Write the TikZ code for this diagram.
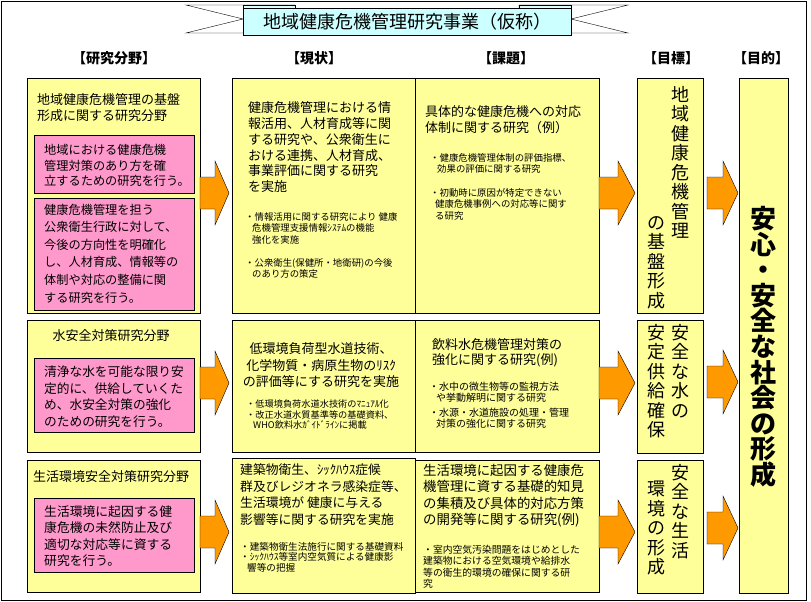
\documentclass[tikz,border=0pt]{standalone}
\usepackage{fontspec}
\setmainfont{Noto Sans CJK JP}
\definecolor{boxyellow}{HTML}{FFFF99}
\definecolor{boxpink}{HTML}{FF99CC}
\definecolor{arroworange}{HTML}{FF9900}
\definecolor{bannercyan}{HTML}{CCFFFF}
\begin{document}
\begin{tikzpicture}[x=1pt, y=-1pt,
    ybox/.style={draw, fill=boxyellow},
    pbox/.style={draw, fill=boxpink},
    body/.style={anchor=north west, inner sep=0, align=left, font=\fontsize{13}{15.5}\selectfont},
    note/.style={anchor=north west, inner sep=0, align=left, font=\fontsize{9.4}{11.5}\selectfont},
    head/.style={inner sep=0, font=\fontsize{14}{16}\selectfont\bfseries},
    tate/.style={anchor=north, inner sep=0, align=center, font=\fontsize{18}{19.5}\selectfont},
    arr/.style={draw, fill=arroworange}]
\useasboundingbox (0,0) rectangle (811,602);
\draw (1.5,1.5) rectangle (806,600);

% banner
\draw[fill=white] (186,5) -- (295,5) -- (295,33) -- (186,33) -- (243,19) -- cycle;
\draw[fill=white] (628,5) -- (519,5) -- (519,33) -- (628,33) -- (571,19) -- cycle;
\draw[fill=bannercyan!70!white] (243,5) rectangle (295,9);
\draw[fill=bannercyan!70!white] (519,5) rectangle (571,9);
\draw[fill=bannercyan] (243,8) rectangle (571,35);
\node[inner sep=0, font=\fontsize{18}{20}\selectfont] (title) at (407,21.5) {地域健康危機管理研究事業（仮称）};

% headings
\node[head] (hfield) at (114,58) {【研究分野】};
\node[head] (hnow)   at (314,58) {【現状】};
\node[head] (hissue) at (506,58) {【課題】};
\node[head] (hgoal)  at (671,58) {【目標】};
\node[head] (haim)   at (761,58) {【目的】};

% boxes
\draw[ybox] (27,78) rectangle (200,313);
\draw[pbox] (34,135) rectangle (194,193);
\draw[pbox] (34,198) rectangle (194,310);
\draw[ybox] (232,78) rectangle (415,313);
\draw[ybox] (415,78) rectangle (599,313);
\draw[ybox] (637,78) rectangle (703,313);
\draw[ybox] (739,78) rectangle (788,593);

\draw[ybox] (27,320) rectangle (200,452);
\draw[pbox] (34,358) rectangle (194,432);
\draw[ybox] (232,320) rectangle (415,452);
\draw[ybox] (415,320) rectangle (599,452);
\draw[ybox] (637,320) rectangle (703,453);

\draw[ybox] (27,460) rectangle (200,592);
\draw[pbox] (34,498) rectangle (194,572);
\draw[ybox] (232,458) rectangle (415,593);
\draw[ybox] (415,460) rectangle (599,592);
\draw[ybox] (637,460) rectangle (703,593);

% arrows
\foreach \xa/\xb/\xc/\yc in {200/215/229/193, 599/618/635/193, 707/723/738/193,
    200/215/229/383, 599/618/635/383, 707/723/738/382,
    200/215/229/532, 599/618/635/532, 707/723/738/528}
  \draw[arr] (\xa,\yc-16) -- (\xb,\yc-16) -- (\xb,\yc-32) -- (\xc,\yc)
    -- (\xb,\yc+32) -- (\xb,\yc+16) -- (\xa,\yc+16) -- cycle;

% row 1
\node[body] (field1) at (37,93.5) {地域健康危機管理の基盤\\形成に関する研究分野};
\node[body, font=\fontsize{12.2}{15.5}\selectfont] (pink1) at (44,144.5)
  {地域における健康危機\\管理対策のあり方を確\\立するための研究を行う。};
\node[body, font=\fontsize{12.2}{17.6}\selectfont] (pink2) at (44,203.5)
  {健康危機管理を担う\\公衆衛生行政に対して、\\今後の方向性を明確化\\し、人材育成、情報等の\\体制や対応の整備に関\\する研究を行う。};
\node[body, font=\fontsize{13}{15.8}\selectfont] (now1) at (248,101.5)
  {健康危機管理における情\\報活用、人材育成等に関\\する研究や、公衆衛生に\\おける連携、人材育成、\\事業評価に関する研究\\を実施};
\node[note] (now1a) at (245,212)
  {・情報活用に関する研究により 健康\\\hspace{7pt}危機管理支援情報ｼｽﾃﾑの機能\\\hspace{7pt}強化を実施};
\node[note] (now1b) at (245,258)
  {・公衆衛生(保健所・地衛研)の今後\\\hspace{7pt}のあり方の策定};
\node[body] (issue1) at (425,105.5) {具体的な健康危機への対応\\体制に関する研究（例）};
\node[note] (issue1a) at (430,153)
  {・健康危機管理体制の評価指標、\\\hspace{7pt}効果の評価に関する研究};
\node[note] (issue1b) at (430,188)
  {・初動時に原因が特定できない\\\hspace{5pt}健康危機事例への対応等に関す\\\hspace{5pt}る研究};
\node[tate] (goal1r) at (680,86) {地\\域\\健\\康\\危\\機\\管\\理};
\node[tate] (goal1l) at (656,216) {の\\基\\盤\\形\\成};

% row 2
\node[inner sep=0, font=\fontsize{13}{15.5}\selectfont] (field2) at (111,336) {水安全対策研究分野};
\node[body, font=\fontsize{12.7}{16.7}\selectfont] (pink3) at (44,365.5)
  {清浄な水を可能な限り安\\定的に、供給していくた\\め、水安全対策の強化\\のための研究を行う。};
\node[body, anchor=north, align=center, font=\fontsize{13}{16.5}\selectfont] (now2) at (321,342.5)
  {低環境負荷型水道技術、\\化学物質・病原生物のﾘｽｸ\\の評価等にする研究を実施};
\node[note, font=\fontsize{9.2}{10.6}\selectfont] (now2a) at (246,399.5)
  {・低環境負荷水道水技術のﾏﾆｭｱﾙ化\\・改正水道水質基準等の基礎資料、\\\hspace{7pt}WHO飲料水ｶﾞｲﾄﾞﾗｲﾝに掲載};
\node[body, font=\fontsize{13}{14.5}\selectfont] (issue2) at (432,338.5) {飲料水危機管理対策の\\強化に関する研究(例)};
\node[note, font=\fontsize{10}{10.5}\selectfont] (issue2a) at (429,382)
  {・水中の微生物等の監視方法\\\hspace{7pt}や挙動解明に関する研究};
\node[note, font=\fontsize{10}{10.5}\selectfont] (issue2b) at (429,408)
  {・水源・水道施設の処理・管理\\\hspace{7pt}対策の強化に関する研究};
\node[tate] (goal2r) at (680,324) {安\\全\\な\\水\\の};
\node[tate] (goal2l) at (656,324) {安\\定\\供\\給\\確\\保};

% row 3
\node[body] (field3) at (33,470.5) {生活環境安全対策研究分野};
\node[body, font=\fontsize{12.8}{16.3}\selectfont] (pink4) at (44,505.5)
  {生活環境に起因する健\\康危機の未然防止及び\\適切な対応等に資する\\研究を行う。};
\node[body, font=\fontsize{12.8}{16.7}\selectfont] (now3) at (240,463.5)
  {建築物衛生、ｼｯｸﾊｳｽ症候\\群及びレジオネラ感染症等、\\生活環境が 健康に与える\\影響等に関する研究を実施};
\node[note, font=\fontsize{9.6}{10.6}\selectfont] (now3a) at (240,542)
  {・建築物衛生法施行に関する基礎資料\\・ｼｯｸﾊｳｽ等室内空気質による健康影\\\hspace{7pt}響等の把握};
\node[body, font=\fontsize{13.4}{16.3}\selectfont] (issue3) at (423,464)
  {生活環境に起因する健康危\\機管理に資する基礎的知見\\の集積及び具体的対応方策\\の開発等に関する研究(例)};
\node[note, font=\fontsize{9.8}{11.3}\selectfont] (issue3a) at (423,545)
  {・室内空気汚染問題をはじめとした\\建築物における空気環境や給排水\\等の衛生的環境の確保に関する研\\究};
\node[tate] (goal3r) at (680,464) {安\\全\\な\\生\\活};
\node[tate] (goal3l) at (656,481) {環\\境\\の\\形\\成};

% aim
\node[tate, font=\fontsize{26}{25.6}\selectfont\bfseries] (aim) at (763,206)
  {安\\心\\・\\安\\全\\な\\社\\会\\の\\形\\成};
\end{tikzpicture}
\end{document}
